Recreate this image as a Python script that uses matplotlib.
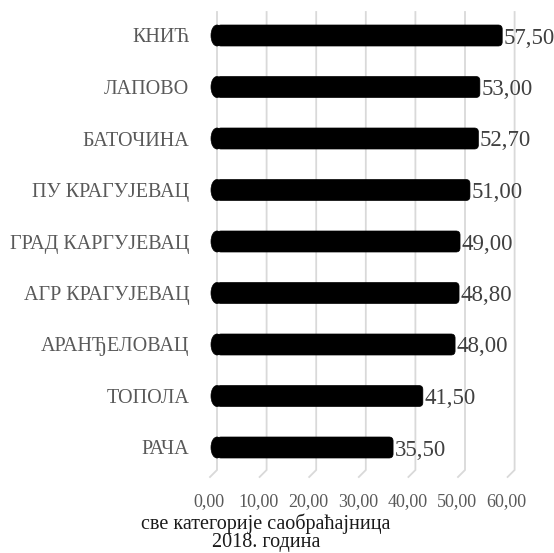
import matplotlib
matplotlib.use("Agg")
import matplotlib.pyplot as plt
from matplotlib.patches import FancyBboxPatch, Ellipse
from matplotlib.transforms import ScaledTranslation

categories = ["КНИЋ", "ЛАПОВО", "БАТОЧИНА", "ПУ КРАГУЈЕВАЦ", "ГРАД КАРГУЈЕВАЦ",
              "АГР КРАГУЈЕВАЦ", "АРАНЂЕЛОВАЦ", "ТОПОЛА", "РАЧА"]
values = [57.50, 53.00, 52.70, 51.00, 49.00, 48.80, 48.00, 41.50, 35.50]
xticks = [0, 10, 20, 30, 40, 50, 60]
xtick_labels = ["0,00", "10,00", "20,00", "30,00", "40,00", "50,00", "60,00"]
xlabel = "све категорије саобраћајница\n2018. година"

plt.rcParams['font.family'] = ['Liberation Serif', 'DejaVu Serif']

W, H = 554, 553
DPI = 100
fig = plt.figure(figsize=(W / DPI, H / DPI), dpi=DPI)

# axes placement in pixels
x0_px, x60_px = 217.0, 514.6
y_top_px, y_bot_px = 12.0, 477.0
ax = fig.add_axes([x0_px / W, (H - y_bot_px) / H, (x60_px - x0_px) / W, (y_bot_px - y_top_px) / H])

px_per_x = (x60_px - x0_px) / 60.0
px_per_y = 51.5
y_first = 35.5
ymin = (y_top_px - y_first) / px_per_y
ymax = (y_bot_px - y_first) / px_per_y
ax.set_xlim(0, 60)
ax.set_ylim(ymax, ymin)
for s in ax.spines.values():
    s.set_visible(False)
ax.set_facecolor('none')

# perspective-like gridlines with slanted foot
y_vert_end = (470.0 - y_first) / px_per_y
dx_foot = 7.0 / px_per_x
for t in xticks:
    ax.plot([t, t, t - dx_foot], [ymin, y_vert_end, ymax], color='#d9d9d9',
            lw=1.3, clip_on=False, zorder=1, solid_joinstyle='miter')

# bars (cylinder-like) with rounded ends
bar_h = 21.0 / px_per_y
R = 4.0
rx = R / px_per_x
ry = R / px_per_y
cap_w = 12.0 / px_per_x
for i, v in enumerate(values):
    p = FancyBboxPatch((0, i - bar_h / 2), v, bar_h,
                       boxstyle=f"round,pad=0,rounding_size={rx}",
                       mutation_aspect=ry / rx,
                       facecolor='black', edgecolor='black', lw=0.5, zorder=3)
    ax.add_patch(p)
    cap = Ellipse((0, i), cap_w, bar_h, facecolor='black', edgecolor='black',
                  lw=0.5, zorder=3, clip_on=False)
    ax.add_patch(cap)
    ax.annotate(f"{v:.2f}".replace('.', ','), xy=(v, i), xytext=(1.5, -2.5),
                textcoords='offset pixels', ha='left', va='center',
                fontsize=16.5, color='#404040', zorder=4)

# category labels
ax.set_yticks(range(len(categories)))
ax.set_yticklabels(categories, fontsize=14.5, color='#595959')
ax.tick_params(axis='y', length=0, pad=20)

# x tick labels
ax.set_xticks(xticks)
ax.set_xticklabels(xtick_labels, fontsize=13, color='#595959')
ax.tick_params(axis='x', length=0, pad=11.5)
off = ScaledTranslation(-8 / DPI, 0, fig.dpi_scale_trans)
for lab in ax.get_xticklabels():
    lab.set_transform(lab.get_transform() + off)

fig.text(266 / W, 1 - 513 / H, xlabel, ha='center', va='top', fontsize=14.5,
         color='#1a1a1a', linespacing=0.98, multialignment='center')

fig.savefig("out.png", dpi=DPI)
